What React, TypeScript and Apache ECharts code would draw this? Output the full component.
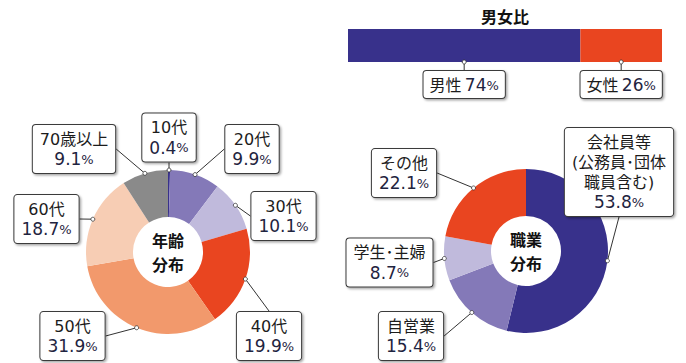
import React, { useEffect, useRef } from 'react';
import * as echarts from 'echarts';

// ---- data ----
const genderTitle = '男女比';
const genderCategories = ['男性', '女性'];
const genderValues = [74, 26];

const ageTitle = ['年齢', '分布'];
const ageCategories = ['10代', '20代', '30代', '40代', '50代', '60代', '70歳以上'];
const ageValues = [0.4, 9.9, 10.1, 19.9, 31.9, 18.7, 9.1];

const jobTitle = ['職業', '分布'];
const jobCategories = ['会社員等\n(公務員･団体\n職員含む)', '自営業', '学生･主婦', 'その他'];
const jobValues = [53.8, 15.4, 8.7, 22.1];

// ---- styles / layout ----
const genderColors = ['#38318b', '#e94520'];
const ageColors = ['#38318b', '#8479b8', '#c0badc', '#e94520', '#f2996c', '#f7cdb4', '#8a8a8a'];
const jobColors = ['#38318b', '#8479b8', '#c0badc', '#e94520'];

const FONT = '"DejaVu Sans", "Noto Sans CJK JP", sans-serif';
const CJK = '"Noto Sans CJK JP", sans-serif';
const R_OUT = 82;
const R_IN = 35;
const AGE_C: [number, number] = [168, 252];
const JOB_C: [number, number] = [526, 251];
const ageLabelPos = [[169, 137.5], [252, 149], [283.5, 216], [269, 336], [72.5, 336], [46.5, 219], [74, 149]];
const jobLabelPos = [[619, 172], [411, 336], [389.5, 262.5], [404, 173]];
const BAR = { left: 348, top: 29, width: 314, height: 33 };
const BAR_GAP = 9;
const CENTER_LINE_GAP = 23.5;

function midPoints(values: number[], c: [number, number], r: number) {
  const total = values.reduce((a, b) => a + b, 0);
  let cum = 0;
  return values.map((v) => {
    const a = ((cum + v / 2) / total) * Math.PI * 2;
    cum += v;
    return [c[0] + r * Math.sin(a), c[1] - r * Math.cos(a)];
  });
}

function nearestEdge(bx: number, by: number, w: number, h: number, p: number[]) {
  const cands = [
    [bx, by - h / 2],
    [bx, by + h / 2],
    [bx - w / 2, by],
    [bx + w / 2, by],
  ];
  let best = cands[0];
  let bd = Infinity;
  for (const c of cands) {
    const d = Math.hypot(c[0] - p[0], c[1] - p[1]);
    if (d < bd) {
      bd = d;
      best = c;
    }
  }
  return best;
}

const rich = {
  n: { fontSize: 16, color: '#1c1c1c', fontFamily: FONT, lineHeight: 20 },
  v: { fontSize: 17, color: '#1f2440', fontFamily: FONT, lineHeight: 20 },
  p: { fontSize: 13, color: '#1f2440', fontFamily: FONT, lineHeight: 20 },
};

const boxStyle = {
  backgroundColor: '#ffffff',
  borderColor: '#3a3a3a',
  borderWidth: 1,
  borderRadius: 3,
  padding: [4, 7, 4, 7],
  shadowColor: 'rgba(0,0,0,0.35)',
  shadowBlur: 2,
  shadowOffsetX: 1.5,
  shadowOffsetY: 1.5,
};

function pieLabelFormatter(p: any) {
  const lines = String(p.name).split('\n').map((l) => `{n|${l}}`);
  return lines.join('\n') + `\n{v|${p.value}}{p|%}`;
}

function makePie(cats: string[], vals: number[], colors: string[], center: [number, number], pos: number[][]) {
  const dots = midPoints(vals, center, R_OUT);
  return {
    type: 'pie',
    center,
    radius: [R_IN, R_OUT],
    startAngle: 90,
    clockwise: true,
    avoidLabelOverlap: false,
    silent: true,
    emphasis: { disabled: true },
    itemStyle: { borderWidth: 0 },
    data: cats.map((n, i) => ({ name: n, value: vals[i], itemStyle: { color: colors[i] } })),
    label: { show: true, position: 'outside', formatter: pieLabelFormatter, rich, ...boxStyle },
    labelLine: { show: true, length: 5, length2: 5, lineStyle: { color: '#333', width: 1 } },
    labelLayout: (params: any) => {
      const i = params.dataIndex;
      const [bx, by] = pos[i];
      const w = params.labelRect.width;
      const h = params.labelRect.height;
      const e = nearestEdge(bx, by, w, h, dots[i]);
      return {
        x: bx,
        y: by,
        align: 'center',
        verticalAlign: 'middle',
        labelLinePoints: [dots[i], e],
      };
    },
  };
}

function dotGraphics(points: number[][]) {
  return points.map((p) => ({
    type: 'circle',
    shape: { cx: p[0], cy: p[1], r: 2 },
    style: { fill: '#ffffff', stroke: '#333', lineWidth: 0.8 },
    z: 100,
    silent: true,
  }));
}

function centerTitle(lines: string[], c: [number, number]) {
  return lines.map((t, i) => ({
    type: 'text',
    x: c[0],
    y: c[1] + (i - (lines.length - 1) / 2) * CENTER_LINE_GAP,
    z: 100,
    silent: true,
    style: {
      text: t,
      fontSize: 16,
      fontWeight: 'bold',
      fontFamily: CJK,
      fill: '#111',
      align: 'center',
      verticalAlign: 'middle',
    },
  }));
}

export default function App() {
  const ref = useRef<HTMLDivElement>(null);
  useEffect(() => {
    if (!ref.current) return;
    const chart = echarts.init(ref.current, undefined, { renderer: 'svg' });

    const genderTotal = genderValues.reduce((a, b) => a + b, 0);
    let cum = 0;
    const barDots = genderValues.map((v) => {
      const x = BAR.left + (BAR.width * (cum + v / 2)) / genderTotal;
      cum += v;
      return [x, BAR.top + BAR.height];
    });

    const option: any = {
      animation: false,
      backgroundColor: '#ffffff',
      grid: { ...BAR, containLabel: false },
      xAxis: { type: 'value', min: 0, max: genderTotal, show: false },
      yAxis: { type: 'category', data: [genderTitle], show: false },
      series: [
        ...genderCategories.map((n, i) => ({
          type: 'bar',
          name: n,
          stack: 'gender',
          barWidth: '100%',
          silent: true,
          emphasis: { disabled: true },
          data: [genderValues[i]],
          itemStyle: { color: genderColors[i] },
          label: {
            show: true,
            position: 'bottom',
            formatter: (p: any) => `{n|${p.seriesName}} {v|${p.value}}{p|%}`,
            rich,
            ...boxStyle,
            padding: [4, 6, 3, 6],
          },
          labelLine: { show: true, lineStyle: { color: '#333', width: 1 } },
          labelLayout: (params: any) => {
            const r = params.rect;
            const cx = r.x + r.width / 2;
            const b = r.y + r.height;
            return {
              x: cx,
              y: b + BAR_GAP,
              align: 'center',
              verticalAlign: 'top',
              labelLinePoints: [
                [cx, b],
                [cx, b + BAR_GAP],
              ],
            };
          },
        })),
        makePie(ageCategories, ageValues, ageColors, AGE_C, ageLabelPos),
        makePie(jobCategories, jobValues, jobColors, JOB_C, jobLabelPos),
      ],
      graphic: [
        {
          type: 'text',
          x: BAR.left + BAR.width / 2,
          y: 15.5,
          silent: true,
          style: {
            text: genderTitle,
            fontSize: 16,
            fontWeight: 'bold',
            fontFamily: CJK,
            fill: '#111',
            align: 'center',
            verticalAlign: 'middle',
          },
        },
        ...centerTitle(ageTitle, AGE_C),
        ...centerTitle(jobTitle, JOB_C),
        ...dotGraphics(midPoints(ageValues, AGE_C, R_OUT)),
        ...dotGraphics(midPoints(jobValues, JOB_C, R_OUT)),
        ...dotGraphics(barDots),
      ],
    };
    chart.setOption(option);
    return () => chart.dispose();
  }, []);
  return (
    <div
      ref={ref}
      style={{ position: 'fixed', left: 0, top: 0, width: 686, height: 363 }}
    />
  );
}
